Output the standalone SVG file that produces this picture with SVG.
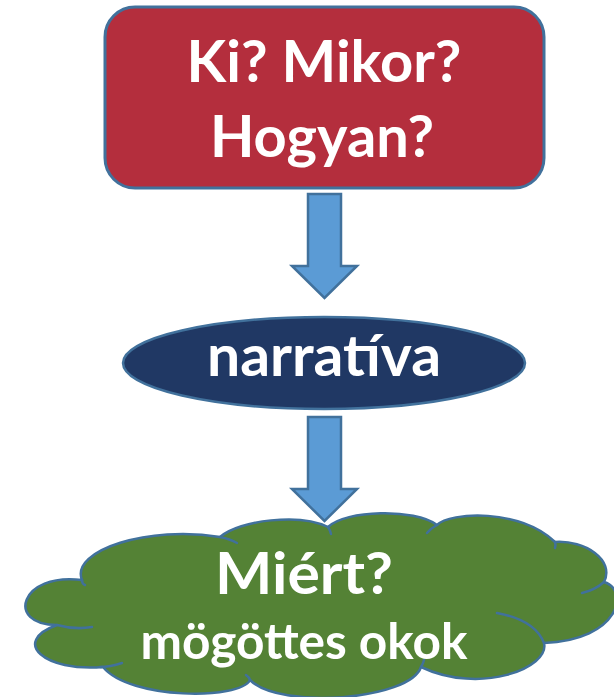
<svg xmlns="http://www.w3.org/2000/svg" width="614" height="697" viewBox="0 0 614 697">
<style>
.lbl{font-family:Lato,"Open Sans","Liberation Sans",sans-serif;font-weight:bold;fill:#FFFFFF;text-anchor:middle}
.arrow{fill:#5B9BD5;stroke:#41719C;stroke-width:2.5;stroke-linejoin:miter}
.inner{fill:none;stroke:#41719C;stroke-width:2.5;stroke-linecap:round}
</style>
<rect width="614" height="697" fill="#FFFFFF"/>
<g id="connectors">
<polygon class="arrow" points="308,194 341,194 341,266 357,266 324.5,298 292,266 308,266"/>
<polygon class="arrow" points="308,417 341,417 341,489 357,489 324.5,521 292,489 308,489"/>
</g>
<g id="node-questions">
<rect x="105" y="7" width="439" height="181" rx="30" ry="30" fill="#B42E3D" stroke="#41719C" stroke-width="3"/>
<text class="lbl" x="324" y="82" font-size="58" textLength="275" lengthAdjust="spacingAndGlyphs">Ki? Mikor?</text>
<text class="lbl" x="322" y="157" font-size="58" textLength="224" lengthAdjust="spacingAndGlyphs">Hogyan?</text>
</g>
<g id="node-narrativa">
<ellipse cx="324" cy="363" rx="201" ry="46" fill="#203864" stroke="#41719C" stroke-width="2.5"/>
<text class="lbl" x="324" y="376" font-size="58" textLength="234" lengthAdjust="spacingAndGlyphs">narratíva</text>
</g>
<g id="node-miert">
<path d="M57,625 C5,625 20,572 82,580 C70,550 150,525 220,537 C240,520 300,513 328,527 C345,510 415,508 437,525 C450,512 520,508 555,542 C585,540 615,560 604,582 C630,590 620,640 544,643 C550,668 480,695 421,667 C410,700 280,710 250,680 C240,700 130,700 103,667 C45,672 10,642 57,625 Z" fill="#548235" stroke="#41719C" stroke-width="2.5" stroke-linejoin="round"/>
<path class="inner" d="M57,625 Q75,630 92,627"/>
<path class="inner" d="M100,667 Q110,667 122,663"/>
<path class="inner" d="M82,580 Q82,584 85,585"/>
<path class="inner" d="M220,537 Q230,539 237,543"/>
<path class="inner" d="M328,527 Q330,530 331,534"/>
<path class="inner" d="M437,525 Q431,528 427,533"/>
<path class="inner" d="M555,542 Q556,545 555,548"/>
<path class="inner" d="M604,582 Q595,590 582,593"/>
<path class="inner" d="M544,643 Q535,620 497,613"/>
<path class="inner" d="M421,667 Q423,664 424,660"/>
<path class="inner" d="M250,680 Q249,677 246,675"/>
<text class="lbl" x="304" y="594" font-size="58" textLength="178" lengthAdjust="spacingAndGlyphs">Miért?</text>
<text class="lbl" x="304" y="659" font-size="49" textLength="327" lengthAdjust="spacingAndGlyphs">mögöttes okok</text>
</g>
</svg>
